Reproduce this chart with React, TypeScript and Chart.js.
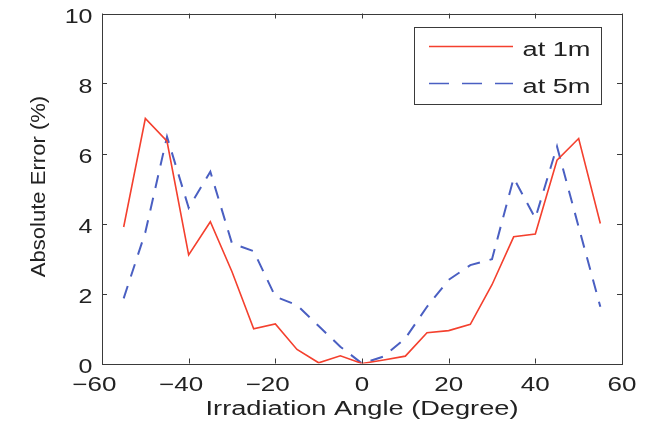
import React, { useEffect, useRef } from "react";
import { Chart, registerables } from "chart.js";

Chart.register(...registerables);

// Irradiation angles (degrees)
const angles = [-55, -50, -45, -40, -35, -30, -25, -20, -15, -10, -5, 0, 5, 10, 15, 20, 25, 30, 35, 40, 45, 50, 55];

// Absolute error (%) measured at 1 m
const errorAt1m = [3.9, 7.0, 6.35, 3.1, 4.05, 2.62, 0.99, 1.13, 0.4, 0.02, 0.22, 0.0, 0.1, 0.21, 0.88, 0.94, 1.12, 2.25, 3.62, 3.7, 5.81, 6.43, 4.0];

// Absolute error (%) measured at 5 m
const errorAt5m = [1.86, 3.75, 6.48, 4.45, 5.48, 3.43, 3.21, 1.91, 1.67, 1.07, 0.48, 0.0, 0.2, 0.72, 1.62, 2.39, 2.81, 2.98, 5.3, 4.15, 6.2, 3.9, 1.62];

const xTicks = [-60, -40, -20, 0, 20, 40, 60];
const yTicks = [0, 2, 4, 6, 8, 10];

const seriesLabels = ["at 1m", "at 5m"];
const xTitle = "Irradiation Angle (Degree)";
const yTitle = "Absolute Error (%)";

const RED = "#f4402e";
const BLUE = "#4a5fc2";
const DASH = [13, 10];
const AXIS = "#3a3a3a";
const TEXT = "#222222";
const FONT = "'Liberation Sans', Arial, Helvetica, sans-serif";
const TEXT_SX = 1.3; // horizontal widening of the axis/legend lettering

function drawText(
  ctx: CanvasRenderingContext2D,
  text: string,
  x: number,
  y: number,
  align: CanvasTextAlign,
  sx: number,
  size: number,
  rotate = 0,
  anchorOffset = 0
) {
  ctx.save();
  ctx.translate(x, y);
  if (rotate) ctx.rotate(rotate);
  ctx.scale(sx, 1);
  ctx.font = `${size}px ${FONT}`;
  ctx.fillStyle = TEXT;
  ctx.textAlign = align;
  ctx.textBaseline = "alphabetic";
  ctx.fillText(text, anchorOffset, 0);
  ctx.restore();
}

const fmt = (v: number) => (v < 0 ? "\u2212" + Math.abs(v) : String(v));

// Box with inward ticks on all four sides, tick labels, axis titles and the in-plot legend
const boxPlugin = {
  id: "boxAxes",
  afterDatasetsDraw(chart: any) {
    const { ctx, chartArea: a, scales } = chart;
    const xs = scales.x;
    const ys = scales.y;
    const t = 5;
    ctx.save();
    ctx.strokeStyle = AXIS;
    ctx.lineWidth = 1;
    ctx.strokeRect(Math.round(a.left) + 0.5, Math.round(a.top) + 0.5, Math.round(a.right - a.left), Math.round(a.bottom - a.top));
    ctx.beginPath();
    xTicks.forEach((v) => {
      const px = Math.round(xs.getPixelForValue(v)) + 0.5;
      ctx.moveTo(px, a.bottom);
      ctx.lineTo(px, a.bottom - t);
      ctx.moveTo(px, a.top);
      ctx.lineTo(px, a.top + t);
    });
    yTicks.forEach((v) => {
      const py = Math.round(ys.getPixelForValue(v)) + 0.5;
      ctx.moveTo(a.left, py);
      ctx.lineTo(a.left + t, py);
      ctx.moveTo(a.right, py);
      ctx.lineTo(a.right - t, py);
    });
    ctx.stroke();

    // x tick labels: digits centred on the tick, minus sign hanging to the left
    ctx.font = `20px ${FONT}`;
    xTicks.forEach((v) => {
      const px = xs.getPixelForValue(v);
      const digits = String(Math.abs(v));
      const w = ctx.measureText(digits).width;
      drawText(ctx, fmt(v), px, a.bottom + 27, "right", TEXT_SX, 20, 0, w / 2);
    });

    // y tick labels
    yTicks.forEach((v) => {
      const py = ys.getPixelForValue(v);
      drawText(ctx, fmt(v), a.left - 9.5, py + 9, "right", 1.25, 20);
    });

    // axis titles
    drawText(ctx, xTitle, (a.left + a.right) / 2, 415, "center", 1.36, 20);
    drawText(ctx, yTitle, 45, (a.top + a.bottom) / 2 - 2, "center", 1.05, 21, -Math.PI / 2);

    // legend
    const lx = a.right - 208;
    const ly = a.top + 13;
    const lw = 187;
    const lh = 77;
    ctx.fillStyle = "#ffffff";
    ctx.fillRect(lx, ly, lw, lh);
    ctx.strokeStyle = AXIS;
    ctx.lineWidth = 1;
    ctx.strokeRect(Math.round(lx) + 0.5, Math.round(ly) + 0.5, lw, lh);
    const rows = [
      { label: seriesLabels[0], color: RED, dash: [] as number[], y: ly + 20, base: ly + 29.5 },
      { label: seriesLabels[1], color: BLUE, dash: [20, 13], y: ly + 57, base: ly + 66 },
    ];
    rows.forEach((r) => {
      ctx.beginPath();
      ctx.setLineDash(r.dash);
      ctx.strokeStyle = r.color;
      ctx.lineWidth = 1.6;
      ctx.moveTo(lx + 15, r.y);
      ctx.lineTo(lx + 99, r.y);
      ctx.stroke();
      ctx.setLineDash([]);
      drawText(ctx, r.label, lx + 108.5, r.base, "left", 1.36, 20);
    });
    ctx.restore();
  },
};

export default function App() {
  const ref = useRef<HTMLCanvasElement | null>(null);

  useEffect(() => {
    if (!ref.current) return;
    const chart = new Chart(ref.current, {
      type: "line",
      data: {
        datasets: [
          {
            label: seriesLabels[0],
            data: angles.map((x, i) => ({ x, y: errorAt1m[i] })),
            borderColor: RED,
            borderWidth: 1.6,
            pointRadius: 0,
            tension: 0,
            fill: false,
          },
          {
            label: seriesLabels[1],
            data: angles.map((x, i) => ({ x, y: errorAt5m[i] })),
            borderColor: BLUE,
            borderWidth: 2,
            borderDash: DASH,
            pointRadius: 0,
            tension: 0,
            fill: false,
          },
        ],
      },
      options: {
        animation: false,
        responsive: false,
        devicePixelRatio: 1,
        layout: { padding: { left: 102, right: 37, top: 13.5, bottom: 57.5 } },
        plugins: {
          legend: { display: false },
          tooltip: { enabled: false },
        },
        scales: {
          x: {
            type: "linear",
            min: -60,
            max: 60,
            afterBuildTicks: (s: any) => {
              s.ticks = xTicks.map((v) => ({ value: v }));
            },
            afterFit: (s: any) => {
              s.height = 0;
            },
            grid: { display: false, drawTicks: false },
            border: { display: false },
            ticks: { display: false },
            title: { display: false },
          },
          y: {
            type: "linear",
            min: 0,
            max: 10,
            afterBuildTicks: (s: any) => {
              s.ticks = yTicks.map((v) => ({ value: v }));
            },
            afterFit: (s: any) => {
              s.width = 0;
            },
            grid: { display: false, drawTicks: false },
            border: { display: false },
            ticks: { display: false },
            title: { display: false },
          },
        },
      },
      plugins: [boxPlugin],
    });
    return () => chart.destroy();
  }, []);

  return (
    <div style={{ position: "fixed", left: 0, top: 0, width: 659, height: 421, background: "#ffffff" }}>
      <canvas ref={ref} width={659} height={421} style={{ width: 659, height: 421, display: "block" }} />
    </div>
  );
}
